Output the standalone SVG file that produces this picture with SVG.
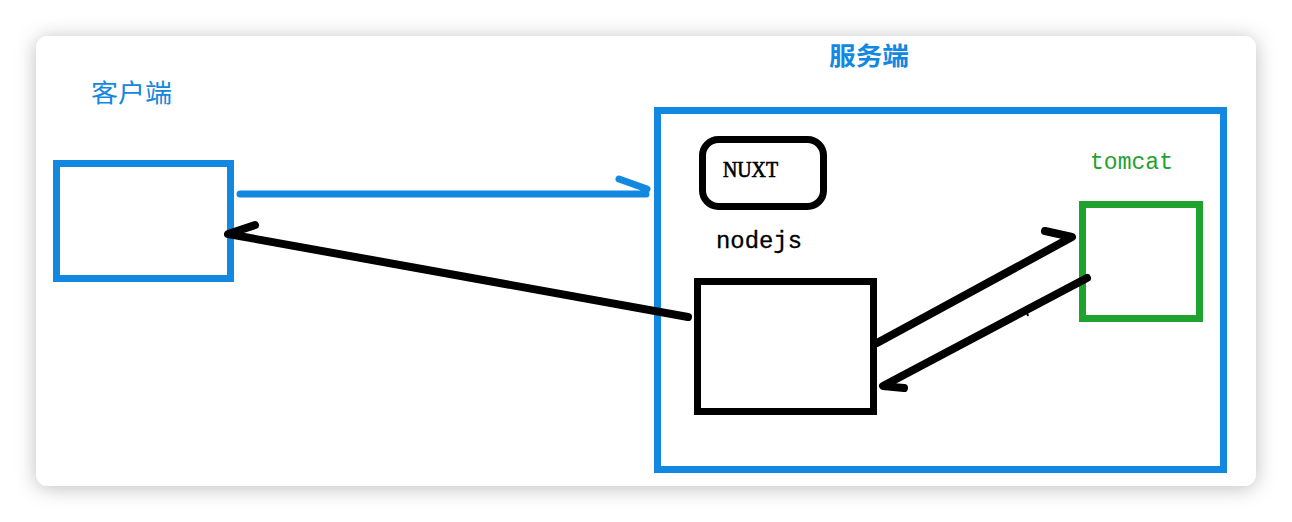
<svg xmlns="http://www.w3.org/2000/svg" width="1292" height="522" viewBox="0 0 1292 522">
  <defs>
    <filter id="shadow" x="-5%" y="-10%" width="110%" height="120%">
      <feDropShadow dx="0" dy="2" stdDeviation="10" flood-color="#000" flood-opacity="0.26"/>
    </filter>
  </defs>
  <style>
    .blue { fill: none; stroke: #1288e0; stroke-width: 7; }
    .black { fill: none; stroke: #000; stroke-width: 7; }
    .green { fill: none; stroke: #1fa22e; stroke-width: 7; }
    .ink { fill: none; stroke: #000; stroke-width: 8; stroke-linecap: round; stroke-linejoin: round; }
    .inkblue { fill: none; stroke: #1288e0; stroke-width: 7; stroke-linecap: round; stroke-linejoin: round; }
    .cjk { font-family: "Noto Sans CJK SC", sans-serif; font-size: 25px; fill: #1288e0; }
    .mono { font-family: "Liberation Mono", monospace; font-size: 23px; }
  </style>
  <rect width="1292" height="522" fill="#ffffff"/>
  <rect x="36" y="36" width="1220" height="450" rx="12" fill="#ffffff" filter="url(#shadow)"/>

  <g id="client">
    <text class="cjk" x="91" y="102" textLength="81" lengthAdjust="spacingAndGlyphs">客户端</text>
    <rect class="blue" x="56.5" y="163.5" width="174" height="115"/>
  </g>

  <g id="server">
    <text class="cjk" x="829" y="65" textLength="80" lengthAdjust="spacingAndGlyphs" font-weight="bold">服务端</text>
    <rect class="blue" x="657.5" y="110.5" width="566" height="359"/>
  </g>

  <g id="nuxt">
    <rect class="black" x="702.5" y="139.5" width="121" height="67" rx="16"/>
    <text x="723" y="177" font-family="Liberation Serif, serif" font-size="24" stroke="#000" stroke-width="0.7" textLength="55" lengthAdjust="spacingAndGlyphs">NUXT</text>
  </g>

  <g id="nodejs">
    <text class="mono" x="716" y="248" fill="#000" stroke="#000" stroke-width="0.3" textLength="86" lengthAdjust="spacingAndGlyphs">nodejs</text>
    <rect class="black" x="697.5" y="281.5" width="176" height="130"/>
  </g>

  <g id="tomcat">
    <text class="mono" x="1090" y="169" fill="#1fa22e" textLength="83" lengthAdjust="spacingAndGlyphs">tomcat</text>
    <rect class="green" x="1082.5" y="204.5" width="117" height="114"/>
  </g>

  <g id="connectors">
    <path class="inkblue" d="M240 194 L646 194 M619 179 L647 189"/>
    <path class="ink" d="M688 317 L228 234 L255 225"/>
    <path class="ink" d="M877 343 L1072 237 L1045 231"/>
    <path class="ink" d="M1087 278 L883 386 L904 388"/>
    <path d="M1026 309 L1028 316" stroke="#000" stroke-width="2" fill="none"/>
  </g>
</svg>
